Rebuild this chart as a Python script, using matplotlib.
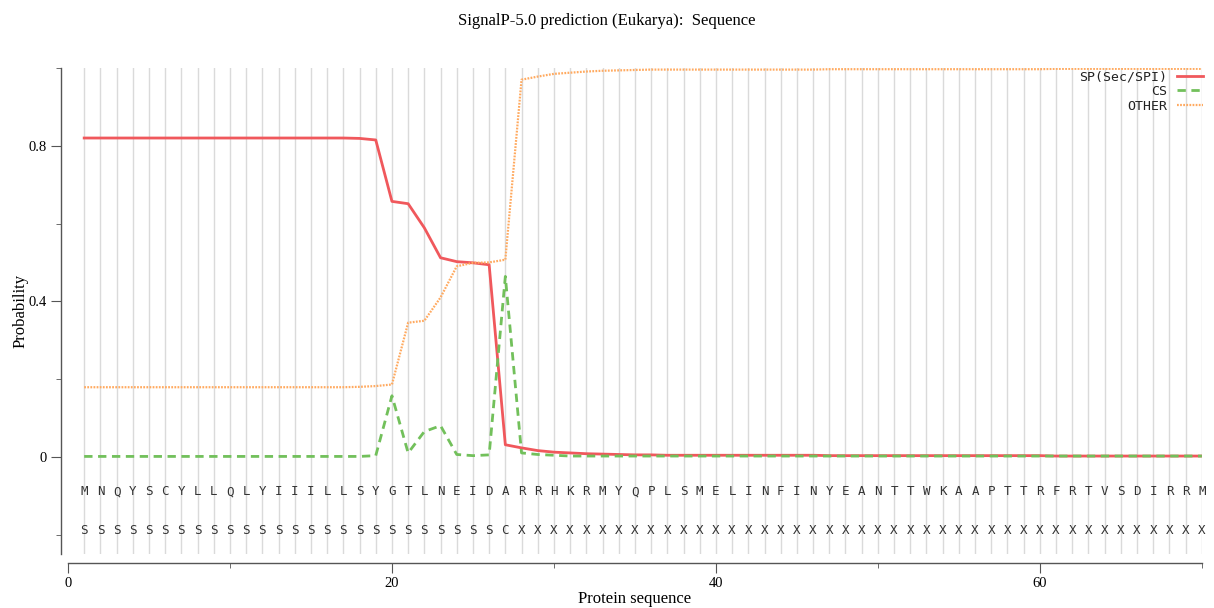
import numpy as np
import matplotlib
matplotlib.use("Agg")
import matplotlib.pyplot as plt
from matplotlib.ticker import FixedLocator

sequence = "MNQYSCYLLQLYIIILLSYGTLNEIDARRHKRMYQPLSMELINFINYEANTTWKAAPTTRFRTVSDIRRM"
labels = "SSSSSSSSSSSSSSSSSSSSSSSSSSC" + "X" * 43

sp = [0.820] * 16 + [0.820, 0.819, 0.815, 0.657, 0.651, 0.589, 0.512, 0.502, 0.499, 0.494,
                     0.031, 0.023, 0.016, 0.012, 0.010, 0.008, 0.007, 0.006, 0.005, 0.005] \
     + [0.004] * 10 + [0.003] * 14 + [0.002] * 10
cs = [0.001] * 17 + [0.001, 0.003, 0.157, 0.010, 0.065, 0.080, 0.006, 0.003, 0.005,
                     0.464, 0.010, 0.006, 0.004] + [0.002] * 40
other = [0.179] * 16 + [0.179, 0.180, 0.182, 0.186, 0.345, 0.350, 0.410, 0.490, 0.499, 0.500,
                        0.507, 0.970, 0.978, 0.985, 0.988, 0.991, 0.993, 0.994, 0.995, 0.996] \
        + [0.996] * 10 + [0.997] * 14 + [0.998] * 10

pos = np.arange(1, len(sequence) + 1)

fig = plt.figure(figsize=(12.14, 6.08), dpi=100)
ax = fig.add_axes([0.056, 0.0888, 0.934, 0.7993])

for p in pos:
    ax.axvline(p, color="#dadada", lw=1.0, zorder=0)

ax.plot(pos, sp, color="#f0585c", lw=2.0, label="SP(Sec/SPI)")
ax.plot(pos, cs, color="#72c05b", lw=2.0, ls=(0, (3, 2)), label="CS")
ax.plot(pos, other, color="#ffaa60", lw=1.6, ls=(0, (0.8, 0.6)), label="OTHER")

for p, aa, lab in zip(pos, sequence, labels):
    ax.text(p, -0.09, aa, ha="center", va="center", family="DejaVu Sans Mono",
            fontsize=9, color="#333333")
    ax.text(p, -0.19, lab, ha="center", va="center", family="DejaVu Sans Mono",
            fontsize=9, color="#333333")

ax.set_xlim(0, 70)
ax.set_ylim(-0.25, 1.0)

for s in ["top", "right"]:
    ax.spines[s].set_visible(False)
ax.spines["left"].set_position(("outward", 5))
ax.spines["bottom"].set_position(("outward", 6.5))
for s in ["left", "bottom"]:
    ax.spines[s].set_color("#555555")
    ax.spines[s].set_linewidth(1.0)

ax.xaxis.set_major_locator(FixedLocator([0, 20, 40, 60]))
ax.xaxis.set_minor_locator(FixedLocator([10, 30, 50, 70]))
ax.yaxis.set_major_locator(FixedLocator([0, 0.4, 0.8]))
ax.yaxis.set_minor_locator(FixedLocator([-0.2, 0.2, 0.6, 1.0]))
ax.set_yticklabels(["0", "0.4", "0.8"])
ax.tick_params(which="major", length=7, color="#555555", labelsize=10.5, pad=3)
ax.tick_params(which="minor", length=3.6, color="#555555")
for t in ax.get_xticklabels() + ax.get_yticklabels():
    t.set_family("Liberation Serif")

ax.set_xlabel("Protein sequence", family="Liberation Serif", fontsize=12)
ax.xaxis.set_label_coords(0.5, -0.076)
ax.set_ylabel("Probability", family="Liberation Serif", fontsize=12)
ax.yaxis.set_label_coords(-0.035, 0.5)
fig.suptitle("SignalP-5.0 prediction (Eukarya):  Sequence", family="Liberation Serif",
             fontsize=12, y=0.978)

leg = ax.legend(loc="upper right", bbox_to_anchor=(1.008, 1.012), frameon=False,
                prop={"family": "DejaVu Sans Mono", "size": 9.5}, markerfirst=False,
                handlelength=2.0, handletextpad=0.7, labelspacing=0.15, borderaxespad=0.2)
for t in leg.get_texts():
    t.set_ha("right")
    t.set_color("#222222")
leg._legend_box.align = "right"

fig.savefig("out.png", dpi=100)
